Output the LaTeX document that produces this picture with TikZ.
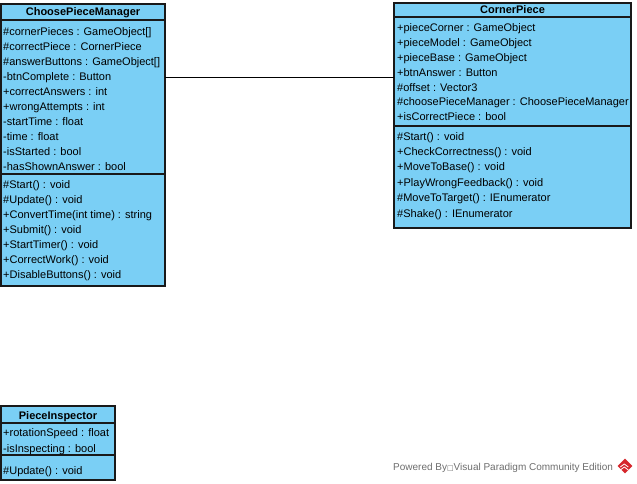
\documentclass[tikz,border=0pt]{standalone}
\usepackage{fontspec}
\setmainfont{Liberation Sans}
\newfontfamily\symfont{DejaVu Sans}
\usetikzlibrary{shapes.geometric}
\definecolor{classfill}{RGB}{122,207,245}
\definecolor{classline}{RGB}{25,25,25}
\definecolor{markgray}{RGB}{110,110,110}
\definecolor{markred}{RGB}{214,38,44}

\tikzset{
  classbox/.style={draw=classline, fill=classfill, line width=1.1pt, rectangle,
    inner sep=0pt, outer sep=0pt, anchor=north west},
  member/.style={anchor=base west, inner sep=0pt, font=\fontsize{11}{13}\selectfont},
  classname/.style={anchor=base, inner sep=0pt, font=\fontsize{11}{13}\selectfont\bfseries},
  divider/.style={draw=classline, line width=1.1pt},
  assoc/.style={draw=black, line width=0.9pt},
}

\begin{document}
\begin{tikzpicture}[x=1pt, y={(0pt,-1pt)}]
\useasboundingbox[fill=white] (0,0) rectangle (637,484);

% ---- ChoosePieceManager ----
\node[classbox, minimum width=164pt, minimum height=282pt] (cpm) at (1,4) {};
\draw[divider] (cpm.west |- 0,20) -- (cpm.east |- 0,20);
\draw[divider] (cpm.west |- 0,174) -- (cpm.east |- 0,174);
\node[classname] (cpm-name) at (83,16) {ChoosePieceManager};
\foreach \t [count=\i] in {
  {\#cornerPieces : GameObject[]},
  {\#correctPiece : CornerPiece},
  {\#answerButtons : GameObject[]},
  {-btnComplete : Button},
  {+correctAnswers : int},
  {+wrongAttempts : int},
  {-startTime : float},
  {-time : float},
  {-isStarted : bool},
  {-hasShownAnswer : bool}}
  \node[member] (cpm-a\i) at (3,{36+15*(\i-1)}) {\t};
\foreach \t [count=\i] in {
  {\#Start() : void},
  {\#Update() : void},
  {+ConvertTime(int time) : string},
  {+Submit() : void},
  {+StartTimer() : void},
  {+CorrectWork() : void},
  {+DisableButtons() : void}}
  \node[member] (cpm-m\i) at (3,{188+15*(\i-1)}) {\t};

% ---- CornerPiece ----
\node[classbox, minimum width=237pt, minimum height=225pt] (cp) at (394,3) {};
\draw[divider] (cp.west |- 0,17) -- (cp.east |- 0,17);
\draw[divider] (cp.west |- 0,126) -- (cp.east |- 0,126);
\node[classname] (cp-name) at (512.5,14) {CornerPiece};
\foreach \t [count=\i] in {
  {+pieceCorner : GameObject},
  {+pieceModel : GameObject},
  {+pieceBase : GameObject},
  {+btnAnswer : Button},
  {\#offset : Vector3},
  {\#choosePieceManager : ChoosePieceManager},
  {+isCorrectPiece : bool}}
  \node[member] (cp-a\i) at (397,{32+14.8*(\i-1)}) {\t};
\foreach \t [count=\i] in {
  {\#Start() : void},
  {+CheckCorrectness() : void},
  {+MoveToBase() : void},
  {+PlayWrongFeedback() : void},
  {\#MoveToTarget() : IEnumerator},
  {\#Shake() : IEnumerator}}
  \node[member] (cp-m\i) at (397,{140+15.4*(\i-1)}) {\t};

% ---- PieceInspector ----
\node[classbox, minimum width=114pt, minimum height=74pt] (pi) at (1,406) {};
\draw[divider] (pi.west |- 0,423) -- (pi.east |- 0,423);
\draw[divider] (pi.west |- 0,455) -- (pi.east |- 0,455);
\node[classname] (pi-name) at (58,419) {PieceInspector};
\node[member] (pi-a1) at (3,436) {+rotationSpeed : float};
\node[member] (pi-a2) at (3,452) {-isInspecting : bool};
\node[member] (pi-m1) at (3,474) {\#Update() : void};

% ---- association ----
\draw[assoc] (cpm.east |- 0,77) -- (cp.west |- 0,77);

% ---- edition mark ----
\node[anchor=base west, inner sep=0pt, text=markgray, font=\fontsize{10}{12}\selectfont]
  (wm) at (393,470) {Powered By{\symfont\fontsize{7}{8}\selectfont □}Visual Paradigm Community Edition};
\node[diamond, fill=markred, inner sep=0pt, minimum size=15pt] (logo) at (625,466) {};
\draw[white, line width=0.8pt] (logo.west) ++(3,1) -- ++(4,-3) -- ++(4,3);
\draw[white, line width=0.8pt] (logo.west) ++(3,4) -- ++(4,-3) -- ++(4,3);
\end{tikzpicture}
\end{document}
